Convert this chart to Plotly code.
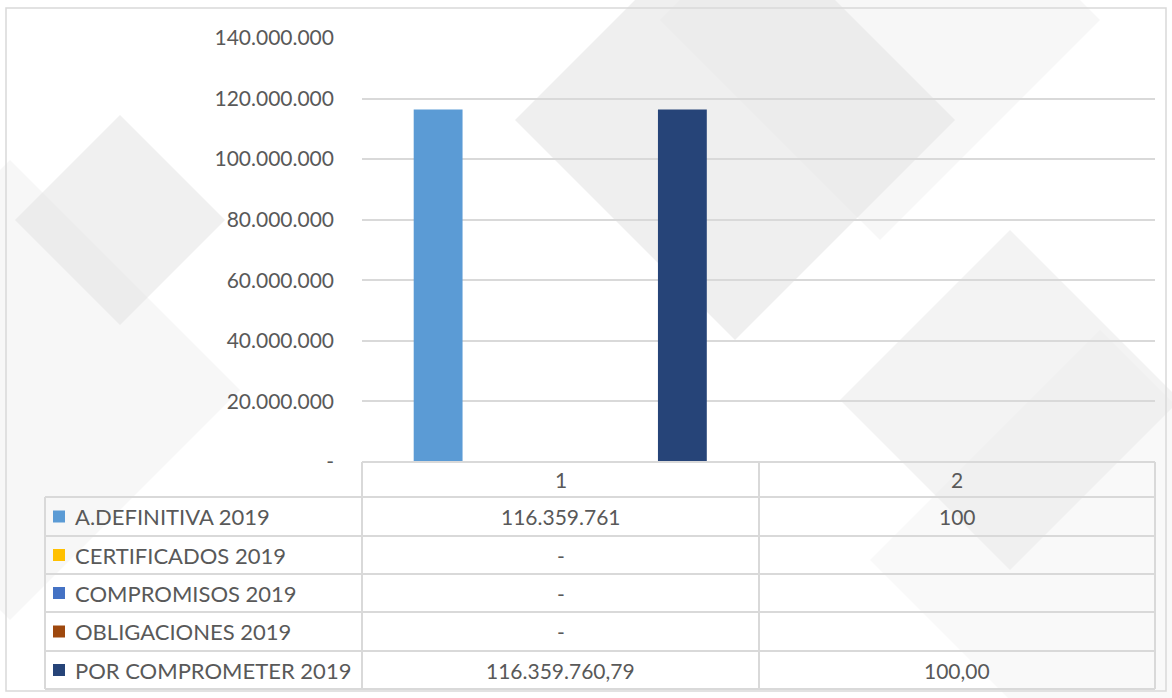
import plotly.graph_objects as go

# ==============================
# DATA
# ==============================
categories = ["1", "2"]
series_names = ["A.DEFINITIVA 2019", "CERTIFICADOS 2019", "COMPROMISOS 2019",
                "OBLIGACIONES 2019", "POR COMPROMETER 2019"]
series_colors = ["#5B9BD5", "#FFC000", "#4472C4", "#9E480E", "#264478"]
definitiva = [116359761, 100]
certificados = [0, None]
compromisos = [0, None]
obligaciones = [0, None]
por_comprometer = [116359760.79, 100.00]
decimals = [0, 0, 0, 0, 2]
y_ticks = [0, 20000000, 40000000, 60000000, 80000000, 100000000, 120000000, 140000000]

all_values = [definitiva, certificados, compromisos, obligaciones, por_comprometer]

W, H = 1172, 698
FONT = "Lato"
FSIZE = 21
GREY_TXT = "#595959"
GRID = "#d9d9d9"


def px(x):
    return x / W


def py(y):
    return 1 - y / H


def fmt(v, dec):
    # excel style: dots for thousands, comma for decimals, "-" for zero
    if v is None:
        return ""
    if v == 0:
        return "-"
    s = f"{v:,.{dec}f}"
    return s.replace(",", "X").replace(".", ",").replace("X", ".")


fig = go.Figure()

for name, color, vals in zip(series_names, series_colors, all_values):
    fig.add_trace(go.Bar(x=categories, y=[v if v is not None else 0 for v in vals],
                         name=name, marker=dict(color=color), showlegend=False))

# plot area in pixels
PL, PR, PT, PB = 362, 1155, 38, 462

fig.update_layout(
    template="none",
    width=W, height=H, autosize=False,
    margin=dict(l=0, r=0, t=0, b=0, pad=0),
    paper_bgcolor="white", plot_bgcolor="rgba(0,0,0,0)",
    barmode="group", bargap=0.23, bargroupgap=0.2,
    font=dict(family=FONT, size=FSIZE, color=GREY_TXT),
    xaxis=dict(domain=[px(PL), px(PR)], type="category", showticklabels=False,
               showgrid=False, zeroline=False, showline=False, automargin=False),
    yaxis=dict(domain=[py(PB), py(PT)], range=[0, 140000000],
               tickvals=y_ticks, ticktext=[fmt(v, 0) for v in y_ticks],
               showgrid=True, gridcolor=GRID, gridwidth=1.5, zeroline=False,
               showline=False, ticks="", ticklabelstandoff=27, automargin=False,
               tickfont=dict(family=FONT, size=FSIZE, color=GREY_TXT)),
)

shapes = []

# background diamonds (decoration)
def diamond(cx, cy, r, color):
    path = f"M {px(cx - r)} {py(cy)} L {px(cx)} {py(cy - r)} L {px(cx + r)} {py(cy)} L {px(cx)} {py(cy + r)} Z"
    return dict(type="path", xref="paper", yref="paper", path=path,
                fillcolor=color, line=dict(width=0), layer="below")

shapes.append(diamond(735, 120, 220, "rgba(215,215,215,0.40)"))
shapes.append(diamond(880, 20, 220, "rgba(228,228,228,0.30)"))
shapes.append(diamond(120, 220, 105, "rgba(218,218,218,0.40)"))
shapes.append(diamond(10, 390, 230, "rgba(228,228,228,0.30)"))
shapes.append(diamond(1010, 400, 170, "rgba(220,220,220,0.35)"))
shapes.append(diamond(1100, 560, 230, "rgba(232,232,232,0.28)"))

# outer border
shapes.append(dict(type="rect", xref="paper", yref="paper",
                   x0=px(6), x1=px(1166), y0=py(691), y1=py(8),
                   line=dict(color=GRID, width=1.5), layer="below"))

# data table grid
row_y = [462, 497, 536, 574, 612, 651, 689]
col_x = [45, 362, 759, 1155]
for i, y in enumerate(row_y):
    x0 = col_x[1] if i == 0 else col_x[0]
    shapes.append(dict(type="line", xref="paper", yref="paper",
                       x0=px(x0), x1=px(col_x[-1]), y0=py(y), y1=py(y),
                       line=dict(color=GRID, width=2)))
for j, x in enumerate(col_x):
    y0 = row_y[1] if j == 0 else row_y[0]
    shapes.append(dict(type="line", xref="paper", yref="paper",
                       x0=px(x), x1=px(x), y0=py(y0), y1=py(row_y[-1]),
                       line=dict(color=GRID, width=2)))

annotations = []
# header
for j, cat in enumerate(categories):
    cx = (col_x[j + 1] + col_x[j + 2]) / 2
    annotations.append(dict(x=px(cx), y=py((row_y[0] + row_y[1]) / 2), xref="paper", yref="paper",
                            text=cat, showarrow=False, xanchor="center", yanchor="middle"))

# rows
for i, (name, color, vals, dec) in enumerate(zip(series_names, series_colors, all_values, decimals)):
    yc = py((row_y[i + 1] + row_y[i + 2]) / 2)
    shapes.append(dict(type="rect", xref="paper", yref="paper",
                       x0=px(53), x1=px(65), y0=yc - 6 / H, y1=yc + 6 / H,
                       fillcolor=color, line=dict(width=0)))
    annotations.append(dict(x=px(73), y=yc, xref="paper", yref="paper", text=name,
                            showarrow=False, xanchor="left", yanchor="middle",
                            font=dict(size=22)))
    for j, v in enumerate(vals):
        cx = (col_x[j + 1] + col_x[j + 2]) / 2
        annotations.append(dict(x=px(cx), y=yc, xref="paper", yref="paper", text=fmt(v, dec),
                                showarrow=False, xanchor="center", yanchor="middle"))

fig.update_layout(shapes=shapes, annotations=annotations)

# pin the graph div to the top-left corner of the page
pin = ("document.body.style.margin='0';document.body.style.overflow='hidden';"
       "var gd=document.getElementById('{plot_id}');"
       "gd.style.position='fixed';gd.style.top='0';gd.style.left='0';")
fig.write_html("out.html", post_script=pin, config={"displayModeBar": False})
